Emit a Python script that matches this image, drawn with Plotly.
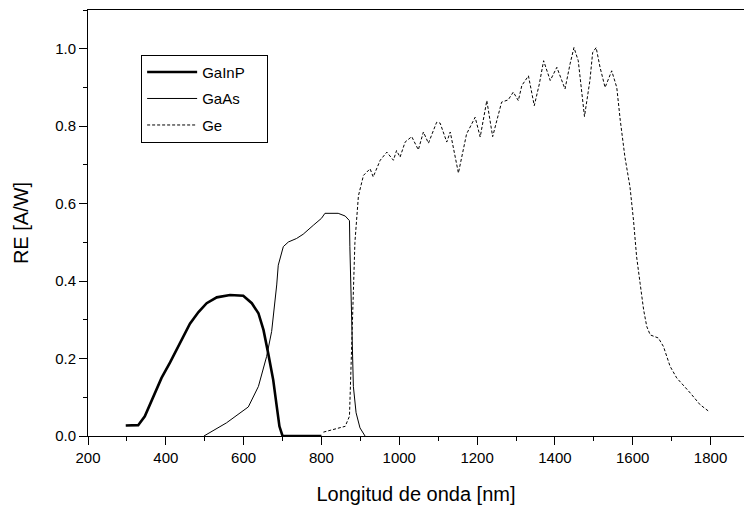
import plotly.graph_objects as go

# GaInP (thick solid)
gainp_x = [297, 329, 346, 368, 389, 411, 436, 462, 484, 505, 531, 565, 599, 621, 638, 651, 663, 676, 685, 692, 700, 800]
gainp_y = [0.027, 0.028, 0.051, 0.10, 0.15, 0.19, 0.24, 0.29, 0.32, 0.343, 0.358, 0.364, 0.362, 0.343, 0.317, 0.274, 0.214, 0.145, 0.077, 0.025, 0.0, 0.0]

# GaAs (thin solid)
gaas_x = [498, 556, 612, 638, 659, 672, 685, 689, 702, 706, 715, 736, 753, 779, 800, 809, 843, 861, 872, 873, 878, 882, 889, 899, 912]
gaas_y = [0.0, 0.034, 0.075, 0.128, 0.205, 0.27, 0.39, 0.441, 0.489, 0.493, 0.501, 0.51, 0.521, 0.544, 0.562, 0.575, 0.575, 0.568, 0.556, 0.489, 0.274, 0.128, 0.06, 0.021, 0.0]

# Ge (dashed)
ge_x = [805, 861, 872, 875, 880, 886, 895, 908, 925, 933, 951, 968, 985, 993, 1002, 1015, 1032, 1049,
        1062, 1075, 1096, 1105, 1122, 1131, 1152, 1173, 1195, 1208, 1225, 1240, 1263, 1280, 1293, 1306,
        1315, 1332, 1347, 1360, 1371, 1388, 1405, 1426, 1439, 1449, 1460, 1476, 1490, 1497, 1506, 1516,
        1529, 1546, 1559, 1568, 1580, 1593, 1602, 1610, 1619, 1628, 1636, 1645, 1666, 1679, 1696, 1713,
        1748, 1773, 1795]
ge_y = [0.01, 0.025, 0.051, 0.145, 0.317, 0.50, 0.62, 0.673, 0.69, 0.669, 0.712, 0.733, 0.712, 0.737, 0.72, 0.759, 0.773, 0.739,
        0.785, 0.756, 0.81, 0.808, 0.759, 0.785, 0.679, 0.78, 0.823, 0.772, 0.866, 0.773, 0.862, 0.868, 0.888, 0.866,
        0.905, 0.93, 0.853, 0.909, 0.969, 0.918, 0.952, 0.896, 0.961, 1.003, 0.969, 0.825, 0.918, 0.99, 1.003, 0.952,
        0.90, 0.943, 0.90, 0.815, 0.72, 0.643, 0.557, 0.463, 0.394, 0.326, 0.283, 0.261, 0.253, 0.231, 0.18, 0.15,
        0.111, 0.081, 0.064]

x_ticks = [200, 400, 600, 800, 1000, 1200, 1400, 1600, 1800]
y_ticks = [0.0, 0.2, 0.4, 0.6, 0.8, 1.0]
y_labels = ["0.0", "0.2", "0.4", "0.6", "0.8", "1.0"]
series_names = ["GaInP", "GaAs", "Ge"]

FONT = "Arial, Liberation Sans, sans-serif"
PAD = "\u00a0" * 4

fig = go.Figure()
fig.add_trace(go.Scatter(x=gainp_x, y=gainp_y, mode="lines", name=series_names[0] + PAD, legendgroup="a",
                         line=dict(color="black", width=2.6)))
fig.add_trace(go.Scatter(x=gaas_x, y=gaas_y, mode="lines", name=series_names[1], legendgroup="b",
                         line=dict(color="black", width=1)))
fig.add_trace(go.Scatter(x=ge_x, y=ge_y, mode="lines", name=series_names[2], legendgroup="c",
                         line=dict(color="black", width=1, dash="3px,2px")))

axis_common = dict(showgrid=False, zeroline=False, showline=True, linecolor="black", linewidth=1,
                   ticks="outside", ticklen=8, tickwidth=1, tickcolor="black",
                   tickfont=dict(family=FONT, size=15, color="black"))

fig.update_xaxes(range=[200, 1886], tickvals=x_ticks, mirror=True,
                 minor=dict(dtick=100, tick0=200, ticks="outside", ticklen=4, tickcolor="black", tickwidth=1),
                 title=dict(text="Longitud de onda [nm]", font=dict(family=FONT, size=20, color="black"), standoff=21),
                 **axis_common)
fig.update_yaxes(range=[0, 1.1], tickvals=y_ticks, ticktext=y_labels,
                 minor=dict(dtick=0.1, tick0=0, ticks="outside", ticklen=4, tickcolor="black", tickwidth=1),
                 title=dict(text="RE [A/W]", font=dict(family=FONT, size=20, color="black"), standoff=21),
                 **axis_common)

fig.update_layout(
    width=744, height=506,
    margin=dict(l=88, r=0, t=10, b=70),
    plot_bgcolor="white", paper_bgcolor="white",
    font=dict(family=FONT, color="black"),
    legend=dict(x=0.081, y=0.895, xanchor="left", yanchor="top",
                bordercolor="black", borderwidth=1, bgcolor="white",
                font=dict(family=FONT, size=15, color="black"),
                tracegroupgap=4, itemwidth=50),
    showlegend=True,
)

fig.write_html("out.html")
